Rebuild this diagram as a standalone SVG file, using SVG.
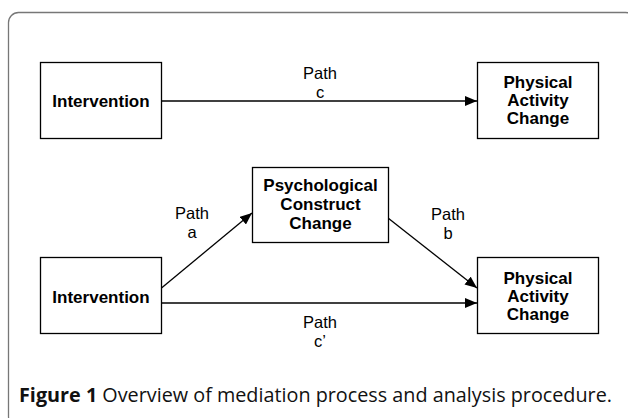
<svg xmlns="http://www.w3.org/2000/svg" width="628" height="418" viewBox="0 0 628 418">
<style>
.box{fill:#fff;stroke:#000;stroke-width:1.3}
.bt{font-family:"Liberation Sans",Arial,sans-serif;font-size:17px;font-weight:bold;fill:#000;text-anchor:middle}
.lt{font-family:"Liberation Sans",Arial,sans-serif;font-size:16.5px;fill:#000;text-anchor:middle}
.ed{stroke:#000;stroke-width:1.3;fill:none;marker-end:url(#ah)}
.cap{font-family:"Open Sans","Noto Sans",sans-serif;font-size:19.8px;fill:#111}
</style>
<defs>
<marker id="ah" markerUnits="userSpaceOnUse" markerWidth="12" markerHeight="10" viewBox="0 0 12 10" refX="12" refY="5" orient="auto">
<path d="M0,0 L12,5 L0,10 z" fill="#000"/>
</marker>
</defs>
<rect x="0" y="0" width="628" height="418" fill="#fff"/>
<rect id="frame" x="8.5" y="12.5" width="627" height="414" rx="10" fill="none" stroke="#777" stroke-width="1.3"/>
<g id="connectors">
<line class="ed" x1="161.5" y1="101" x2="477" y2="101"/>
<line class="ed" x1="161.5" y1="288" x2="252" y2="213"/>
<line class="ed" x1="388" y1="218" x2="477" y2="288"/>
<line class="ed" x1="161.5" y1="303" x2="477" y2="303"/>
<text class="lt" x="320" y="79">Path</text>
<text class="lt" x="320" y="98">c</text>
<text class="lt" x="192" y="219">Path</text>
<text class="lt" x="192" y="238">a</text>
<text class="lt" x="448" y="220">Path</text>
<text class="lt" x="448" y="239">b</text>
<text class="lt" x="320" y="328">Path</text>
<text class="lt" x="320" y="347">c’</text>
</g>
<g id="intervention1">
<rect class="box" x="40.5" y="62.5" width="121" height="76"/>
<text class="bt" x="101" y="107">Intervention</text>
</g>
<g id="pa1">
<rect class="box" x="477.5" y="62.5" width="121" height="76"/>
<text class="bt" x="538" y="88">Physical</text>
<text class="bt" x="538" y="106">Activity</text>
<text class="bt" x="538" y="124">Change</text>
</g>
<g id="psych">
<rect class="box" x="252.5" y="167.5" width="136" height="75"/>
<text class="bt" x="320.5" y="191">Psychological</text>
<text class="bt" x="320.5" y="210">Construct</text>
<text class="bt" x="320.5" y="229">Change</text>
</g>
<g id="intervention2">
<rect class="box" x="40.5" y="257.5" width="121" height="76"/>
<text class="bt" x="101" y="303">Intervention</text>
</g>
<g id="pa2">
<rect class="box" x="477.5" y="257.5" width="121" height="76"/>
<text class="bt" x="538" y="284">Physical</text>
<text class="bt" x="538" y="302">Activity</text>
<text class="bt" x="538" y="320">Change</text>
</g>
<text id="caption" class="cap" x="19" y="402"><tspan font-weight="bold">Figure 1</tspan> Overview of mediation process and analysis procedure.</text>
</svg>
